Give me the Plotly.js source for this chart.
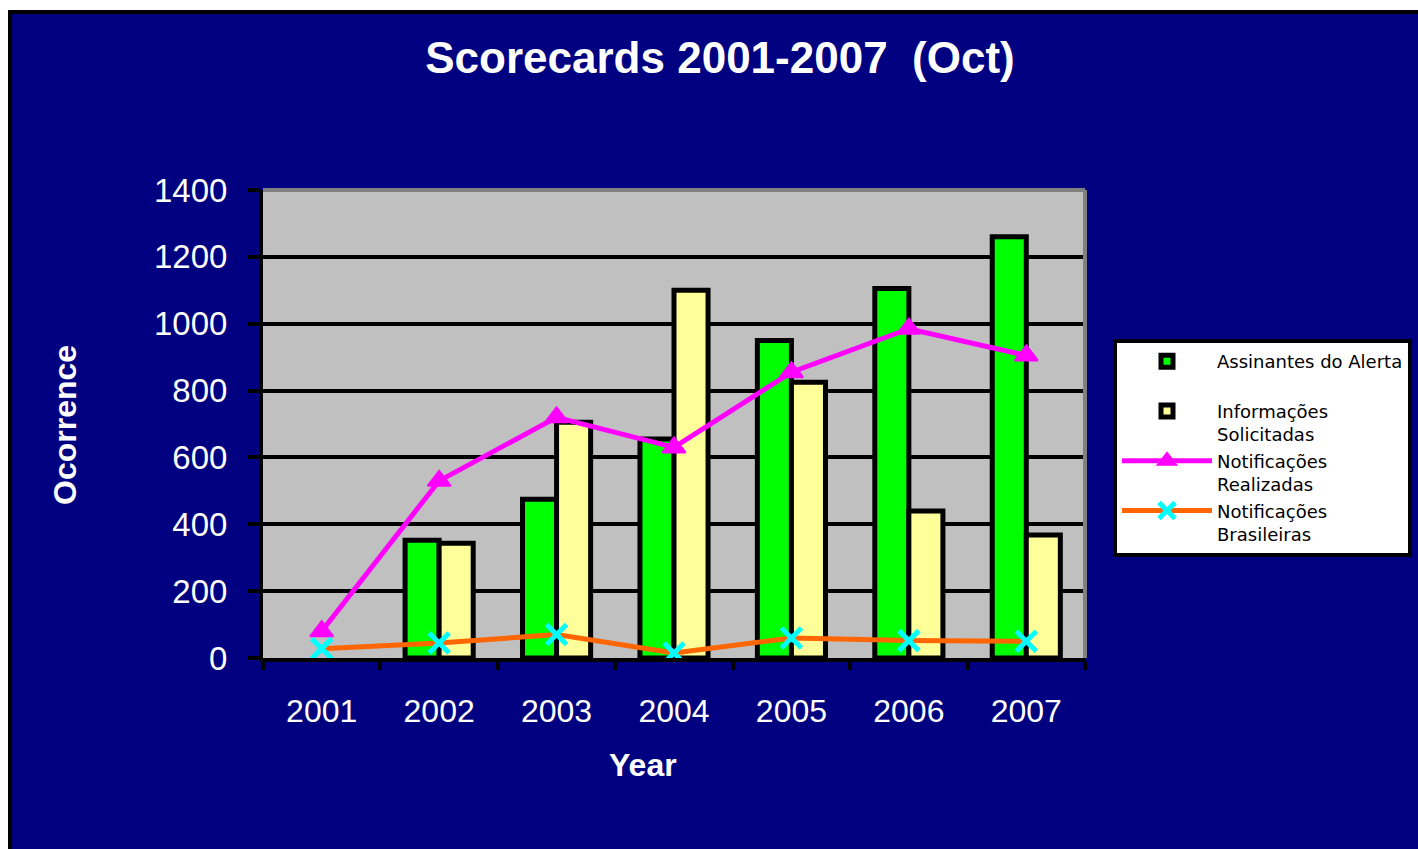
<!DOCTYPE html>
<html>
<head>
<meta charset="utf-8">
<script src="https://cdn.plot.ly/plotly-3.0.1.min.js"></script>
<style>html,body{margin:0;padding:0;background:#ffffff;}#chart{width:1418px;height:849px;}</style>
</head>
<body>
<div id="chart"></div>
<script>
// ---- data ----
const years = ['2001', '2002', '2003', '2004', '2005', '2006', '2007'];
const assinantes = [null, 352, 475, 655, 950, 1105, 1260];
const informacoes = [null, 343, 705, 1100, 825, 440, 368];
const realizadas = [80, 530, 720, 630, 855, 985, 905];
const brasileiras = [28, 45, 70, 15, 60, 52, 50];
const seriesNames = ['Assinantes do Alerta<br>\u00a0', 'Informações<br>Solicitadas', 'Notificações<br>Realizadas', 'Notificações<br>Brasileiras'];
const yTicks = [0, 200, 400, 600, 800, 1000, 1200, 1400];
const titleText = 'Scorecards 2001-2007\u00a0\u00a0(Oct)';
const xTitle = 'Year';
const yTitle = 'Ocorrence';

const FONT = 'Liberation Sans, Arial, sans-serif';
const LEGFONT = 'DejaVu Sans, Liberation Sans, sans-serif';
const NAVY = '#000080';

const traces = [
  {type: 'bar', name: seriesNames[0], x: years, y: assinantes,
   marker: {color: '#00ff00', line: {color: '#000000', width: 5}}},
  {type: 'bar', name: seriesNames[1], x: years, y: informacoes,
   marker: {color: '#ffff99', line: {color: '#000000', width: 5}}},
  {type: 'scatter', mode: 'lines+markers', name: seriesNames[2], x: years, y: realizadas,
   line: {color: '#ff00ff', width: 5},
   marker: {symbol: 'triangle-up', size: 20, color: '#ff00ff', line: {color: '#ff00ff', width: 2}}},
  {type: 'scatter', mode: 'lines+markers', name: seriesNames[3], x: years, y: brasileiras,
   line: {color: '#ff6600', width: 5},
   marker: {symbol: 'x-thin', size: 20, color: '#00ffff', line: {color: '#00ffff', width: 5}}}
];

// pixel helpers for decorations outside the plot area
const L = 263, R = 1085, T = 190, B = 658;
const px = v => (v - L) / (R - L);
const py = v => (B - v) / (B - T);

const layout = {
  width: 1418, height: 849,
  margin: {l: L, r: 1418 - R, t: T, b: 849 - B, autoexpand: false},
  paper_bgcolor: NAVY,
  plot_bgcolor: '#c0c0c0',
  font: {family: FONT, color: '#ffffff'},
  showlegend: true,
  barmode: 'group',
  bargap: 0.42,
  bargroupgap: 0,
  title: {text: titleText, font: {family: FONT, size: 44, color: '#ffffff', weight: 'bold'},
          xref: 'container', x: 720 / 1418, xanchor: 'center', yref: 'container', y: 1 - 58 / 849, yanchor: 'middle'},
  xaxis: {type: 'category', range: [-0.5, 6.5], showgrid: false, zeroline: false,
          showline: true, linecolor: '#000000', linewidth: 4,
          ticks: 'outside', tickson: 'boundaries', ticklen: 8, tickwidth: 4, tickcolor: '#000000',
          tickfont: {family: FONT, size: 32, color: '#ffffff'}, ticklabelstandoff: 22},
  yaxis: {range: [0, 1400], tickvals: yTicks, ticktext: yTicks.map(String),
          showgrid: true, gridcolor: '#000000', gridwidth: 4, zeroline: false,
          showline: true, linecolor: '#000000', linewidth: 4,
          ticks: 'outside', ticklen: 12, tickwidth: 4, tickcolor: '#000000',
          tickfont: {family: FONT, size: 33, color: '#ffffff'}, ticklabelstandoff: 13},
  legend: {x: px(1113), xanchor: 'left', y: py(339), yanchor: 'top', xref: 'paper', yref: 'paper',
           bgcolor: '#ffffff', bordercolor: '#000000', borderwidth: 4,
           font: {family: LEGFONT, size: 18, color: '#000000'}, valign: 'top', itemwidth: 90,
           traceorder: 'normal', tracegroupgap: 0},
  annotations: [
    {text: xTitle, xref: 'paper', yref: 'paper', x: px(643), y: py(765), xanchor: 'center', yanchor: 'middle',
     showarrow: false, font: {family: FONT, size: 32, color: '#ffffff', weight: 'bold'}},
    {text: yTitle, xref: 'paper', yref: 'paper', x: px(65), y: py(425), xanchor: 'center', yanchor: 'middle',
     textangle: -90, showarrow: false, font: {family: FONT, size: 32, color: '#ffffff', weight: 'bold'}}
  ],
  shapes: [
    // white slide margins (top & left) and the black frame of the chart box
    {type: 'rect', xref: 'paper', yref: 'paper', x0: px(-20), x1: px(1440), y0: py(10), y1: py(-20),
     fillcolor: '#ffffff', line: {width: 0}, layer: 'above'},
    {type: 'rect', xref: 'paper', yref: 'paper', x0: px(-20), x1: px(8), y0: py(870), y1: py(-20),
     fillcolor: '#ffffff', line: {width: 0}, layer: 'above'},
    {type: 'line', xref: 'paper', yref: 'paper', x0: px(8), x1: px(1440), y0: py(12), y1: py(12),
     line: {color: '#000000', width: 4}, layer: 'above'},
    {type: 'line', xref: 'paper', yref: 'paper', x0: px(10), x1: px(10), y0: py(10), y1: py(870),
     line: {color: '#000000', width: 4}, layer: 'above'},
    // grey top and right frame of the plot area
    {type: 'line', xref: 'paper', yref: 'paper', x0: 0, x1: 1, y0: 1, y1: 1,
     line: {color: '#808080', width: 4}, layer: 'above'},
    {type: 'line', xref: 'paper', yref: 'paper', x0: 1, x1: 1, y0: 0, y1: 1,
     line: {color: '#808080', width: 4}, layer: 'above'}
  ]
};

Plotly.newPlot('chart', traces, layout, {displayModeBar: false, responsive: false});
</script>
</body>
</html>
